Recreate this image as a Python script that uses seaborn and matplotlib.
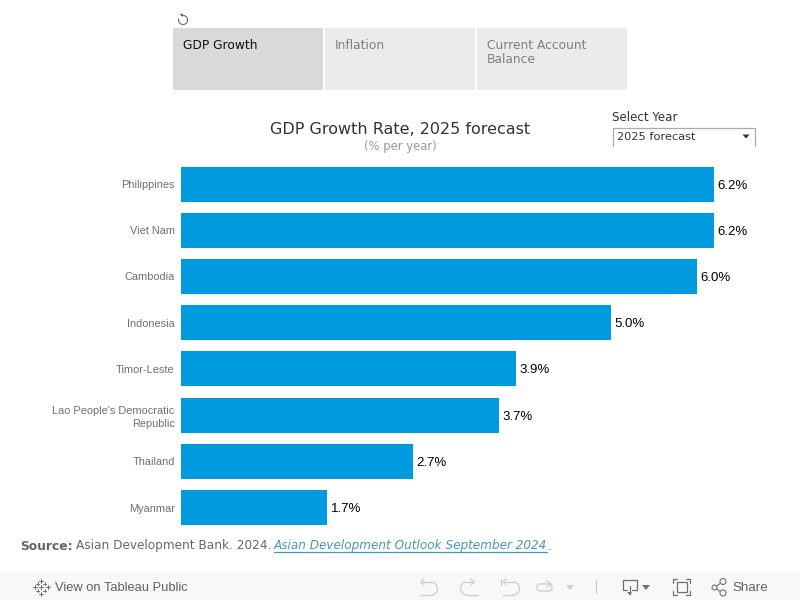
"""GDP growth dashboard recreated with seaborn"""

import numpy as np
import pandas as pd
import matplotlib
matplotlib.use('Agg')
import matplotlib.pyplot as plt
from matplotlib.patches import Rectangle, Arc, Circle, Polygon, FancyBboxPatch
import seaborn as sns

countries = ['Philippines', 'Viet Nam', 'Cambodia', 'Indonesia', 'Timor-Leste',
             "Lao People's Democratic\nRepublic", 'Thailand', 'Myanmar']
growth = [6.2, 6.2, 6.0, 5.0, 3.9, 3.7, 2.7, 1.7]
tab_labels = ['GDP Growth', 'Inflation', 'Current Account\nBalance']

BAR_COLOR = '#009ADE'

sns.set_theme(style='white')
plt.rcParams['font.family'] = ['DejaVu Sans']

fig = plt.figure(figsize=(8, 6), dpi=100)

# overlay in pixel coordinates for the dashboard furniture
ui = fig.add_axes([0, 0, 1, 1])
ui.set_xlim(0, 800)
ui.set_ylim(600, 0)
ui.axis('off')

# chart
df = pd.DataFrame({'country': countries, 'growth': growth})
ax = fig.add_axes([181 / 800, 1 - 530.6 / 600, 575 / 800, 369.6 / 600])
ax.patch.set_alpha(0)
sns.barplot(data=df, x='growth', y='country', color=BAR_COLOR, saturation=1,
            width=0.76, linewidth=0, ax=ax)
ax.set_xlim(0, 6.685)
ax.set_xlabel('')
ax.set_ylabel('')
ax.xaxis.set_visible(False)
ax.tick_params(axis='y', length=0, pad=4.5)
for label in ax.get_yticklabels():
    label.set_fontfamily('Liberation Sans')
    label.set_fontsize(7.9)
    label.set_color('#707070')
    label.set_linespacing(1.4)
sns.despine(ax=ax, left=True, bottom=True)
for i, v in enumerate(growth):
    ax.annotate(f'{v:.1f}%', (v, i), xytext=(2.5, 0), textcoords='offset points',
                va='center_baseline', fontfamily='Liberation Sans', fontsize=9.5,
                color='black')

# tabs
tab_x = [173, 325, 477]
tab_fill = ['#D9D9D9', '#EBEBEB', '#EBEBEB']
tab_text = ['#111111', '#7F7F7F', '#7F7F7F']
for x, fill, col, name in zip(tab_x, tab_fill, tab_text, tab_labels):
    ui.add_patch(Rectangle((x, 28), 150, 62, facecolor=fill, edgecolor='none'))
    ui.text(x + 10, 39, name, fontsize=8.8, color=col, va='top', linespacing=1.08)

# reset icon
ui.add_patch(Arc((183, 20), 9, 9, theta1=-100, theta2=200, color='#666666', lw=0.8))
ui.add_patch(Polygon([[179.5, 14.5], [183, 13.5], [183, 17]], closed=True,
                     facecolor='#666666', lw=0))

# titles
ui.text(400, 130, 'GDP Growth Rate, 2025 forecast', fontsize=11.55, color='#333333',
        ha='center', va='center')
ui.text(400, 146.5, '(% per year)', fontsize=8.4, color='#999999', ha='center', va='center')

# year selector
ui.text(612, 117.5, 'Select Year', fontsize=8.6, color='#333333', va='center')
ui.plot([613, 613, 755, 755], [146, 127.5, 127.5, 146], color='#AAAAAA', lw=0.9)
ui.text(617, 136.5, '2025 forecast', fontsize=8.2, color='#333333', va='center')
ui.add_patch(Polygon([[742.5, 134.5], [749.5, 134.5], [746, 138.5]], closed=True,
                     facecolor='#333333', lw=0))

# source line
ui.text(20, 546, 'Source:', fontsize=8.85, fontweight='bold', color='#666666', va='center')
ui.text(75.5, 546, 'Asian Development Bank. 2024.', fontsize=8.72, color='#666666', va='center')
ui.text(274, 546, 'Asian Development Outlook September 2024', fontsize=8.66, style='italic',
        color='#4996B2', va='center')
ui.plot([274, 547], [551.5, 551.5], color='#4996B2', lw=0.9)
ui.text(548, 546, '.', fontsize=8.85, color='#666666', va='center')

# tableau toolbar
ui.add_patch(Rectangle((0, 573), 800, 27, facecolor='#F8F8F8', edgecolor='none'))
ICON = '#707070'
FADED = '#CFCFCF'
for dx, dy, r in [(0, -6.5, 2), (0, 6.5, 2), (-6.5, 0, 2), (6.5, 0, 2), (-3.5, -3.5, 1.5),
                  (3.5, -3.5, 1.5), (-3.5, 3.5, 1.5), (3.5, 3.5, 1.5), (0, 0, 2)]:
    ui.plot([41 + dx - r, 41 + dx + r], [587 + dy] * 2, color=ICON, lw=0.7)
    ui.plot([41 + dx] * 2, [587 + dy - r, 587 + dy + r], color=ICON, lw=0.7)
ui.text(55, 588, 'View on Tableau Public', fontfamily='Liberation Sans', fontsize=9.3,
        color='#606060', va='center')

# undo, redo, revert, refresh
ui.plot([421, 431], [582, 582], color=FADED, lw=1)
ui.plot([424, 421, 424], [579, 582, 585], color=FADED, lw=1)
ui.add_patch(Arc((431, 588.5), 13, 13, theta1=-90, theta2=90, color=FADED, lw=1))
ui.plot([420, 431], [595, 595], color=FADED, lw=1)
ui.plot([474, 467], [582, 582], color=FADED, lw=1)
ui.plot([471, 474, 471], [579, 582, 585], color=FADED, lw=1)
ui.add_patch(Arc((467, 588.5), 13, 13, theta1=90, theta2=270, color=FADED, lw=1))
ui.plot([467, 478], [595, 595], color=FADED, lw=1)
ui.plot([503, 513], [582, 582], color=FADED, lw=1)
ui.plot([506, 503, 506], [579, 582, 585], color=FADED, lw=1)
ui.plot([501, 501], [579, 585], color=FADED, lw=1)
ui.add_patch(Arc((513, 588.5), 13, 13, theta1=-90, theta2=90, color=FADED, lw=1))
ui.plot([503, 513], [595, 595], color=FADED, lw=1)
ui.add_patch(FancyBboxPatch((537, 584), 15, 7, boxstyle='round,pad=0,rounding_size=3',
                            facecolor='none', edgecolor=FADED, lw=1))
ui.plot([547, 551, 547], [581, 584, 587], color=FADED, lw=1)
ui.add_patch(Polygon([[566, 585], [574, 585], [570, 590]], closed=True, facecolor=FADED, lw=0))
ui.plot([595.5, 595.5], [580, 593], color=FADED, lw=1)

# download, fullscreen, share
ui.plot([627, 622.5, 622.5, 636.5, 636.5, 632], [590, 590, 580, 580, 590, 590], color=ICON, lw=0.9)
ui.plot([629.5, 629.5], [586, 594], color=ICON, lw=0.9)
ui.add_patch(Polygon([[627, 592], [632, 592], [629.5, 595]], closed=True, facecolor=ICON, lw=0))
ui.add_patch(Polygon([[642, 585], [650, 585], [646, 590]], closed=True, facecolor=ICON, lw=0))
ui.add_patch(Rectangle((676.5, 582), 10, 10, facecolor='none', edgecolor=ICON, lw=0.9))
for xs, ys in [([673, 673, 677], [583, 579, 579]), ([686, 690, 690], [579, 579, 583]),
               ([673, 673, 677], [591, 595, 595]), ([686, 690, 690], [595, 595, 591])]:
    ui.plot(xs, ys, color=ICON, lw=0.9)
ui.plot([722, 715, 722], [582, 587.5, 593], color=ICON, lw=0.8)
for cx, cy, r in [(714.5, 587.5, 2.5), (723, 581.5, 3), (723, 593, 3)]:
    ui.add_patch(Circle((cx, cy), r, facecolor='#F8F8F8', edgecolor=ICON, lw=0.8, zorder=3))
ui.text(732, 588, 'Share', fontfamily='Liberation Sans', fontsize=9.6, color='#606060', va='center')

fig.savefig('out.png', dpi=100)
